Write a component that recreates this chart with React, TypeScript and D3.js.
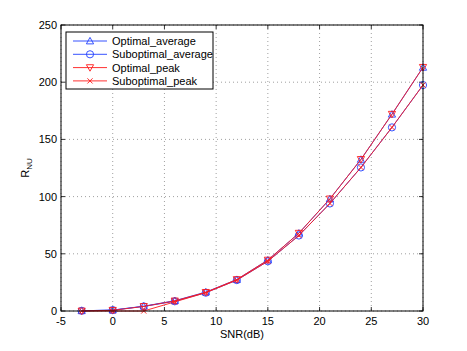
import React from "react";
import * as d3 from "d3";

const snr = [-3, 0, 3, 6, 9, 12, 15, 18, 21, 24, 27, 30];
const optimalAverage = [0.2, 0.8, 4.2, 9, 16.5, 27.5, 44.5, 68, 98, 132.5, 172, 213];
const suboptimalAverage = [0.2, 0.8, 4, 8.5, 16, 27, 43.5, 66, 94, 125.5, 160.5, 197.5];
const optimalPeak = [0, 0.6, 4, 8.8, 16.3, 27.5, 44.5, 68, 98, 132.5, 172, 213];
const suboptimalPeak = [0, 0, 0, 8, 16, 27, 43.5, 66, 94, 125.5, 160.5, 197.5];
const xTicks = [-5, 0, 5, 10, 15, 20, 25, 30];
const yTicks = [0, 50, 100, 150, 200, 250];
const seriesNames = ["Optimal_average", "Suboptimal_average", "Optimal_peak", "Suboptimal_peak"];

const W = 467, H = 351;
const L = 61, R = 423, T = 25, B = 311;
const BLUE = "#2040ff";
const RED = "#ff1a1a";

type Marker = "tri" | "circ" | "dtri" | "x";

function MarkerShape({ kind, x, y, color }: { kind: Marker; x: number; y: number; color: string }) {
  const s = 3.6;
  if (kind === "tri")
    return <path d={`M${x},${y - s}L${x + s},${y + s * 0.8}L${x - s},${y + s * 0.8}Z`} fill="none" stroke={color} strokeWidth={0.9} />;
  if (kind === "dtri")
    return <path d={`M${x},${y + s}L${x + s},${y - s * 0.8}L${x - s},${y - s * 0.8}Z`} fill="none" stroke={color} strokeWidth={0.9} />;
  if (kind === "circ") return <circle cx={x} cy={y} r={3.6} fill="none" stroke={color} strokeWidth={0.9} />;
  const k = 2.6;
  return <path d={`M${x - k},${y - k}L${x + k},${y + k}M${x - k},${y + k}L${x + k},${y - k}`} stroke={color} strokeWidth={0.9} />;
}

export default function App() {
  const x = d3.scaleLinear().domain([-5, 30]).range([L, R]);
  const y = d3.scaleLinear().domain([0, 250]).range([B, T]);
  const line = d3.line<number>().x((_, i) => x(snr[i])).y((d) => y(d));
  const series: { name: string; data: number[]; color: string; marker: Marker }[] = [
    { name: seriesNames[0], data: optimalAverage, color: BLUE, marker: "tri" },
    { name: seriesNames[1], data: suboptimalAverage, color: BLUE, marker: "circ" },
    { name: seriesNames[2], data: optimalPeak, color: RED, marker: "dtri" },
    { name: seriesNames[3], data: suboptimalPeak, color: RED, marker: "x" },
  ];
  const font = "'Liberation Sans', Arial, sans-serif";
  const legX = 66, legY = 32, legW = 147, legH = 57;
  return (
    <svg width={W} height={H} style={{ position: "absolute", left: 0, top: 0, background: "#fff" }} fontFamily={font}>
      <rect x={0} y={0} width={W} height={H} fill="#fff" />
      {/* grid */}
      {xTicks.map((t) => (
        <line key={"gx" + t} x1={x(t)} x2={x(t)} y1={T} y2={B} stroke="#888" strokeWidth={0.8} strokeDasharray="1,3" />
      ))}
      {yTicks.map((t) => (
        <line key={"gy" + t} x1={L} x2={R} y1={y(t)} y2={y(t)} stroke="#888" strokeWidth={0.8} strokeDasharray="1,3" />
      ))}
      {/* ticks */}
      {xTicks.map((t) => (
        <g key={"tx" + t}>
          <line x1={x(t)} x2={x(t)} y1={B} y2={B - 4} stroke="#000" strokeWidth={0.8} />
          <line x1={x(t)} x2={x(t)} y1={T} y2={T + 4} stroke="#000" strokeWidth={0.8} />
          <text x={x(t)} y={B + 14} textAnchor="middle" fontSize={11} fill="#000">{t}</text>
        </g>
      ))}
      {yTicks.map((t) => (
        <g key={"ty" + t}>
          <line x1={L} x2={L + 4} y1={y(t)} y2={y(t)} stroke="#000" strokeWidth={0.8} />
          <line x1={R} x2={R - 4} y1={y(t)} y2={y(t)} stroke="#000" strokeWidth={0.8} />
          <text x={L - 4} y={y(t) + 4} textAnchor="end" fontSize={11} fill="#000">{t}</text>
        </g>
      ))}
      {/* series */}
      {series.map((s) => (
        <g key={s.name}>
          <path d={line(s.data) || ""} fill="none" stroke={s.color} strokeWidth={0.9} />
          {s.data.map((v, i) => (
            <MarkerShape key={i} kind={s.marker} x={x(snr[i])} y={y(v)} color={s.color} />
          ))}
        </g>
      ))}
      {/* box */}
      <rect x={L} y={T} width={R - L} height={B - T} fill="none" stroke="#000" strokeWidth={1} />
      {/* legend */}
      <rect x={legX} y={legY} width={legW} height={legH} fill="#fff" stroke="#000" strokeWidth={1} />
      {series.map((s, i) => {
        const ry = legY + 9 + i * 13.3;
        return (
          <g key={"lg" + i}>
            <line x1={legX + 7} x2={legX + 41} y1={ry} y2={ry} stroke={s.color} strokeWidth={0.9} />
            <MarkerShape kind={s.marker} x={legX + 24} y={ry} color={s.color} />
            <text x={legX + 46} y={ry + 4} fontSize={11} fill="#000">{s.name}</text>
          </g>
        );
      })}
      {/* axis labels */}
      <text x={(L + R) / 2} y={B + 27} textAnchor="middle" fontSize={11} fill="#000">SNR(dB)</text>
      <g transform={`translate(29, ${(T + B) / 2}) rotate(-90)`}>
        <text x={0} y={0} textAnchor="middle" fontSize={11} fill="#000">
          R<tspan fontSize={8} dy={3}>NU</tspan>
        </text>
      </g>
    </svg>
  );
}
